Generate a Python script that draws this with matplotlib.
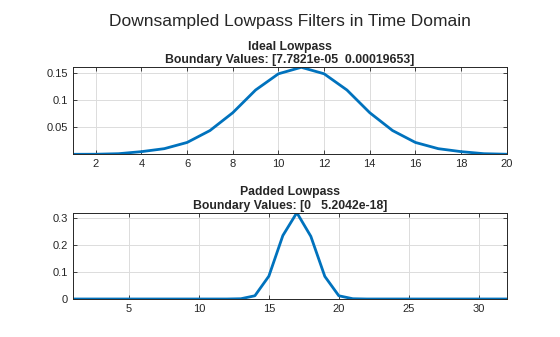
import matplotlib.pyplot as plt

plt.rcParams['font.family'] = ['Liberation Sans', 'DejaVu Sans']

# ideal lowpass, samples 1..20
ideal_x = list(range(1, 21))
ideal_y = [7.7821e-05, 0.00019653, 0.0012, 0.0050, 0.0105, 0.022, 0.044, 0.077,
           0.119, 0.149, 0.161, 0.149, 0.119, 0.077, 0.044, 0.022, 0.0105,
           0.0050, 0.0012, 0.00019653]

# padded lowpass, samples 1..32
padded_x = list(range(1, 33))
padded_y = [0, 0, 0, 0, 0, 0, 0, 0, 0, 0, 0, 0, 0.001, 0.012, 0.085, 0.236,
            0.321, 0.233, 0.084, 0.012, 0.001, 0, 0, 0, 0, 0, 0, 0, 0, 0, 0,
            5.2042e-18]

blue = '#0072BD'
axc = '#262626'

fig = plt.figure(figsize=(5.6, 3.37), dpi=100)
fig.suptitle('Downsampled Lowpass Filters in Time Domain', fontsize=12.5,
             color=axc, x=0.518, y=0.958)

ax1 = fig.add_axes([73 / 560, 1 - 154.3 / 337, 433.7 / 560, 87 / 337])
ax2 = fig.add_axes([73 / 560, 1 - 299 / 337, 433.7 / 560, 86.3 / 337])


def style(ax):
    ax.grid(True, color='#dcdcdc', linewidth=0.7)
    ax.set_axisbelow(True)
    ax.tick_params(direction='in', top=True, right=True, length=3,
                   labelsize=8, colors=axc, width=0.6)
    for s in ax.spines.values():
        s.set_color(axc)
        s.set_linewidth(0.7)


ax1.plot(ideal_x, ideal_y, color=blue, linewidth=2)
ax1.set_xlim(1, 20)
ax1.set_ylim(min(ideal_y), max(ideal_y))
ax1.set_xticks(range(2, 21, 2))
ax1.set_yticks([0.05, 0.1, 0.15])
ax1.set_yticklabels(['0.05', '0.1', '0.15'])
ax1.set_title('Ideal Lowpass\nBoundary Values: [7.7821e-05  0.00019653]',
              fontsize=8.8, fontweight='bold', color=axc, pad=3,
              linespacing=1.15)
style(ax1)

ax2.plot(padded_x, padded_y, color=blue, linewidth=2)
ax2.set_xlim(1, 32)
ax2.set_ylim(0, max(padded_y))
ax2.set_xticks(range(5, 31, 5))
ax2.set_yticks([0, 0.1, 0.2, 0.3])
ax2.set_yticklabels(['0', '0.1', '0.2', '0.3'])
ax2.set_title('Padded Lowpass\nBoundary Values: [0   5.2042e-18]',
              fontsize=8.8, fontweight='bold', color=axc, pad=3,
              linespacing=1.15)
style(ax2)

fig.savefig('out.png', dpi=100)
